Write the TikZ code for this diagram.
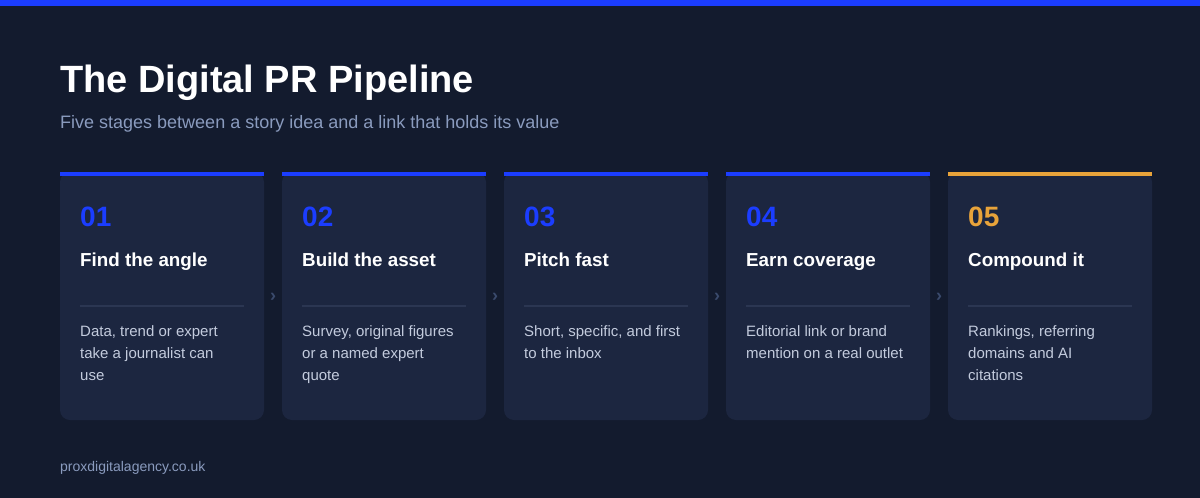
\documentclass[tikz,border=0pt]{standalone}
\usepackage{fontspec}
\setmainfont{Liberation Sans}
\definecolor{bg}{HTML}{131B2E}
\definecolor{card}{HTML}{1C2640}
\definecolor{accent}{HTML}{1B3DFF}
\definecolor{gold}{HTML}{E8A33A}
\definecolor{sub}{HTML}{8A9BBE}
\definecolor{desc}{HTML}{C3CBDD}
\definecolor{divider}{HTML}{2B3652}
\definecolor{chev}{HTML}{3A4A6C}
\tikzset{
  cardbox/.style={fill=card, rounded corners=10pt},
  numtxt/.style={anchor=base west, inner sep=0pt, font=\fontsize{28}{32}\selectfont\bfseries, text=#1},
  headtxt/.style={anchor=base west, inner sep=0pt, font=\fontsize{18.8}{22}\selectfont\bfseries, text=white},
  desctxt/.style={anchor=base west, inner sep=0pt, font=\fontsize{15}{22}\selectfont, text=desc},
  chevtxt/.style={inner sep=0pt, font=\fontsize{18}{18}\selectfont\bfseries, text=chev},
}
\begin{document}
\begin{tikzpicture}[x=1pt,y=-1pt]
\useasboundingbox (0,0) rectangle (1200,498);
\fill[bg] (0,0) rectangle (1200,498);
\fill[accent] (0,0) rectangle (1200,6);
\node[anchor=base west, inner sep=0pt, text=white, font=\fontsize{38}{42}\selectfont\bfseries] (title) at (60,92) {The Digital PR Pipeline};
\node[anchor=base west, inner sep=0pt, text=sub, font=\fontsize{18}{22}\selectfont] (subtitle) at (60,128) {Five stages between a story idea and a link that holds its value};
\foreach \i/\num/\col/\head/\desc in {
  0/01/accent/Find the angle/{Data, trend or expert\\take a journalist can\\use},
  1/02/accent/Build the asset/{Survey, original figures\\or a named expert\\quote},
  2/03/accent/Pitch fast/{Short, specific, and first\\to the inbox},
  3/04/accent/Earn coverage/{Editorial link or brand\\mention on a real outlet},
  4/05/gold/Compound it/{Rankings, referring\\domains and AI\\citations}} {
  \pgfmathsetmacro{\xx}{60+222*\i}
  \fill[cardbox] (\xx,172) rectangle ++(204,248);
  \fill[\col] (\xx,172) rectangle ++(204,4);
  \node[numtxt=\col] (num\i) at (\xx+20,226) {\num};
  \node[headtxt] (head\i) at (\xx+20,266) {\head};
  \draw[divider, line width=1.2pt] (\xx+20,306) -- ++(164,0);
  \node[desctxt] (desc\i) at (\xx+20,336) {\begin{tabular}[t]{@{}l@{}}\desc\end{tabular}};
}
\foreach \i in {0,1,2,3} {
  \pgfmathsetmacro{\cx}{60+222*\i+204+9}
  \node[chevtxt] (chev\i) at (\cx,297) {›};
}
\node[anchor=base west, inner sep=0pt, text=sub, font=\fontsize{14}{16}\selectfont] (footer) at (60,471) {proxdigitalagency.co.uk};
\end{tikzpicture}
\end{document}
